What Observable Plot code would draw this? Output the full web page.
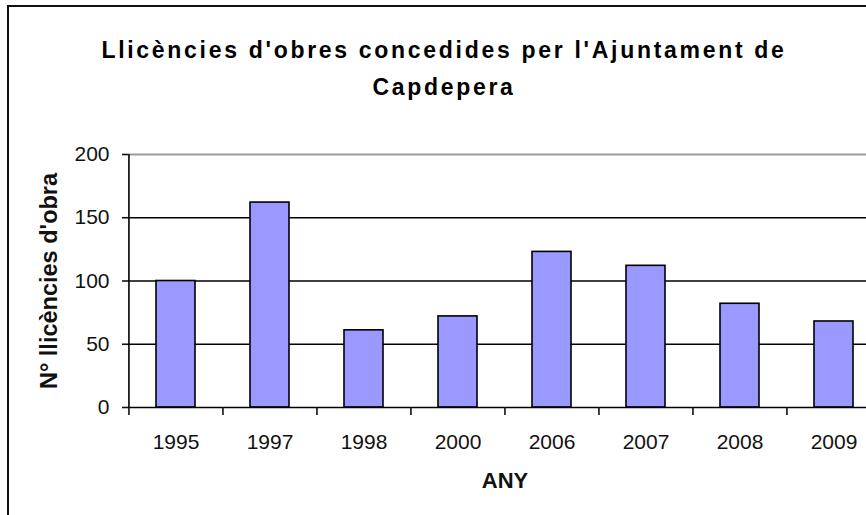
<!DOCTYPE html>
<html>
<head>
<meta charset="utf-8">
<script src="https://cdn.jsdelivr.net/npm/d3@7"></script>
<script src="https://cdn.jsdelivr.net/npm/@observablehq/plot@0.6"></script>
<style>
  html, body { margin: 0; padding: 0; background: #fff; overflow: hidden; }
  #page { position: relative; width: 866px; height: 515px; overflow: hidden; font-family: "Liberation Sans", Arial, sans-serif; }
  .edge { position: absolute; background: #111; z-index: 5; pointer-events: none; }
  #edge-top { left: 7px; top: 5px; width: 870px; height: 2px; }
  #edge-left { left: 7px; top: 5px; width: 2px; height: 520px; }
  #title { position: absolute; left: 0; top: 32px; width: 888px; text-align: center; font-weight: bold; font-size: 23px; letter-spacing: 2.7px; line-height: 37px; color: #000; z-index: 3; }
  #chart { position: absolute; left: 0; top: 110px; width: 881px; height: 405px; }
  #chart svg { max-width: none; }
</style>
</head>
<body>
<div id="page">
  <div id="chart"></div>
  <div id="title">Llicències d'obres concedides per l'Ajuntament de<br>Capdepera</div>
  <div class="edge" id="edge-top"></div>
  <div class="edge" id="edge-left"></div>
</div>
<script>
// Building permits granted per year
const years = ["1995", "1997", "1998", "2000", "2006", "2007", "2008", "2009"];
const licences = [100, 162, 61, 72, 123, 112, 82, 68];
const yTicks = [0, 50, 100, 150, 200];
const gridValues = [50, 100, 150];
const yLabel = "N° llicències d'obra";
const xLabel = "ANY";

const data = years.map((year, i) => ({year, value: licences[i]}));

const width = 881, height = 405;
const marginLeft = 128, marginRight = 0;
const step = (width - marginLeft - marginRight) / years.length;

const chart = Plot.plot({
  width, height,
  marginTop: 44, marginBottom: 108, marginLeft, marginRight,
  style: {fontFamily: "'Liberation Sans', Arial, sans-serif", fontSize: "21px", color: "#111", background: "transparent", overflow: "visible", maxWidth: "none"},
  x: {type: "band", domain: years, paddingInner: 0.585, paddingOuter: 0.2925, align: 0.5},
  y: {domain: [0, 200]},
  marks: [
    Plot.ruleY(gridValues, {stroke: "#000", strokeWidth: 1.4}),
    Plot.ruleY([200], {stroke: "#9a9a9a", strokeWidth: 2}),
    Plot.barY(data, {x: "year", y: "value", fill: "#9999ff", stroke: "#000", strokeWidth: 1.6}),
    Plot.ruleY([0], {stroke: "#000", strokeWidth: 1.6}),
    Plot.ruleX([years[0]], {dx: -step / 2, stroke: "#000", strokeWidth: 1.6}),
    Plot.axisY({ticks: yTicks, tickSize: 6, tickPadding: 13, tickFormat: d => String(d), strokeWidth: 1.6, label: null}),
    // category separators below the baseline
    Plot.axisX({tickSize: 8, dx: -step / 2, tickFormat: () => "", strokeWidth: 1.6, label: null}),
    Plot.axisX({tickSize: 0, tickPadding: 27, label: null}),
    Plot.text([yLabel], {text: d => d, frameAnchor: "left", textAnchor: "middle", lineAnchor: "middle", dx: -79, rotate: -90, fontSize: 23.5, fontWeight: "bold", fill: "#111"}),
    Plot.text([xLabel], {text: d => d, frameAnchor: "bottom", textAnchor: "middle", lineAnchor: "middle", dy: 73, fontSize: 22, fontWeight: "bold", fill: "#111"})
  ]
});

document.getElementById("chart").appendChild(chart);
</script>
</body>
</html>
